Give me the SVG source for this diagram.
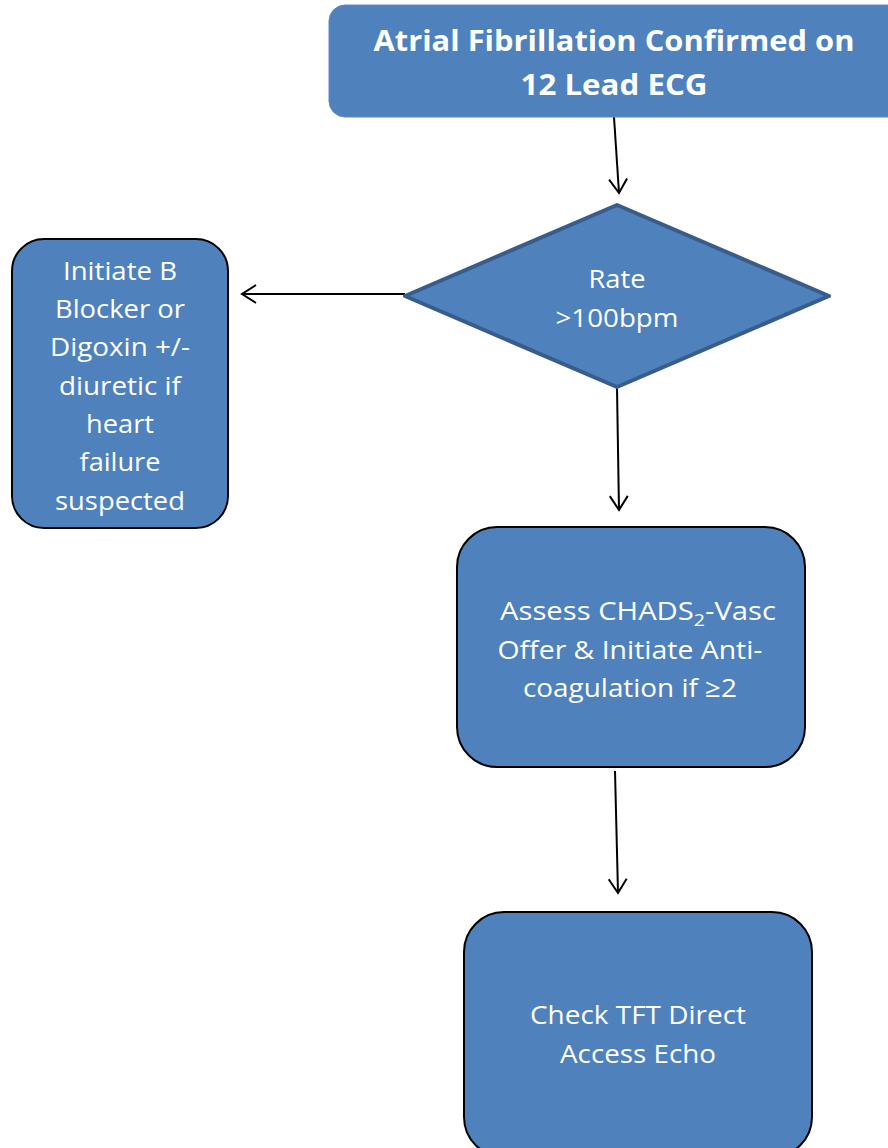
<svg xmlns="http://www.w3.org/2000/svg" width="888" height="1148" viewBox="0 0 888 1148">
<style>
.t{font-family:"Open Sans","Noto Sans","Liberation Sans",sans-serif;fill:#fff;text-anchor:middle;font-size:25.5px}
.b{font-weight:bold;font-size:29px}
.box{fill:#4F81BD;stroke:#000;stroke-width:2}
.c{fill:none;stroke:#000;stroke-width:2}
</style>
<defs>
<marker id="ah" viewBox="0 0 20 20" refX="16" refY="10" markerWidth="20" markerHeight="20" markerUnits="userSpaceOnUse" orient="auto">
<path d="M2,1 L16,10 L2,19" fill="none" stroke="#000" stroke-width="2"/>
</marker>
</defs>
<rect width="888" height="1148" fill="#fff"/>
<g id="connectors">
<line class="c" x1="614" y1="117" x2="619" y2="193" marker-end="url(#ah)"/>
<line class="c" x1="405" y1="294" x2="242" y2="294" marker-end="url(#ah)"/>
<line class="c" x1="617" y1="388" x2="619" y2="510" marker-end="url(#ah)"/>
<line class="c" x1="615" y1="771" x2="618" y2="893" marker-end="url(#ah)"/>
</g>
<g id="start">
<rect x="329" y="5" width="575" height="112" rx="16" fill="#4F81BD" stroke="#5A8AC6" stroke-width="1"/>
<text class="t b" x="614" y="51" textLength="481" lengthAdjust="spacingAndGlyphs">Atrial Fibrillation Confirmed on</text>
<text class="t b" x="614" y="95" textLength="187" lengthAdjust="spacingAndGlyphs">12 Lead ECG</text>
</g>
<g id="decision">
<polygon points="617,205 829,296 617,387 405,296" fill="#4F81BD" stroke="#385D8A" stroke-width="4" stroke-linejoin="round"/>
<text class="t" x="617" y="288" textLength="57" lengthAdjust="spacingAndGlyphs">Rate</text>
<text class="t" x="617" y="327" textLength="123" lengthAdjust="spacingAndGlyphs">&gt;100bpm</text>
</g>
<g id="ratecontrol">
<rect class="box" x="12" y="239" width="216" height="289" rx="32"/>
<text class="t" x="120" y="280" textLength="114" lengthAdjust="spacingAndGlyphs">Initiate B</text>
<text class="t" x="120" y="318" textLength="130" lengthAdjust="spacingAndGlyphs">Blocker or</text>
<text class="t" x="120" y="356" textLength="140" lengthAdjust="spacingAndGlyphs">Digoxin +/-</text>
<text class="t" x="120" y="395" textLength="122" lengthAdjust="spacingAndGlyphs">diuretic if</text>
<text class="t" x="120" y="433" textLength="68" lengthAdjust="spacingAndGlyphs">heart</text>
<text class="t" x="120" y="471" textLength="81" lengthAdjust="spacingAndGlyphs">failure</text>
<text class="t" x="120" y="510" textLength="130" lengthAdjust="spacingAndGlyphs">suspected</text>
</g>
<g id="anticoag">
<rect class="box" x="457" y="527" width="348" height="240" rx="40"/>
<text class="t" x="638" y="620" textLength="276" lengthAdjust="spacingAndGlyphs">Assess CHADS<tspan font-size="17" dy="6">2</tspan><tspan dy="-6">-Vasc</tspan></text>
<text class="t" x="630" y="659" textLength="265" lengthAdjust="spacingAndGlyphs">Offer &amp; Initiate Anti-</text>
<text class="t" x="630" y="697" textLength="214" lengthAdjust="spacingAndGlyphs">coagulation if ≥2</text>
</g>
<g id="tests">
<rect class="box" x="464" y="912" width="348" height="245" rx="40"/>
<text class="t" x="638" y="1024" textLength="216" lengthAdjust="spacingAndGlyphs">Check TFT Direct</text>
<text class="t" x="638" y="1063" textLength="156" lengthAdjust="spacingAndGlyphs">Access Echo</text>
</g>
</svg>
